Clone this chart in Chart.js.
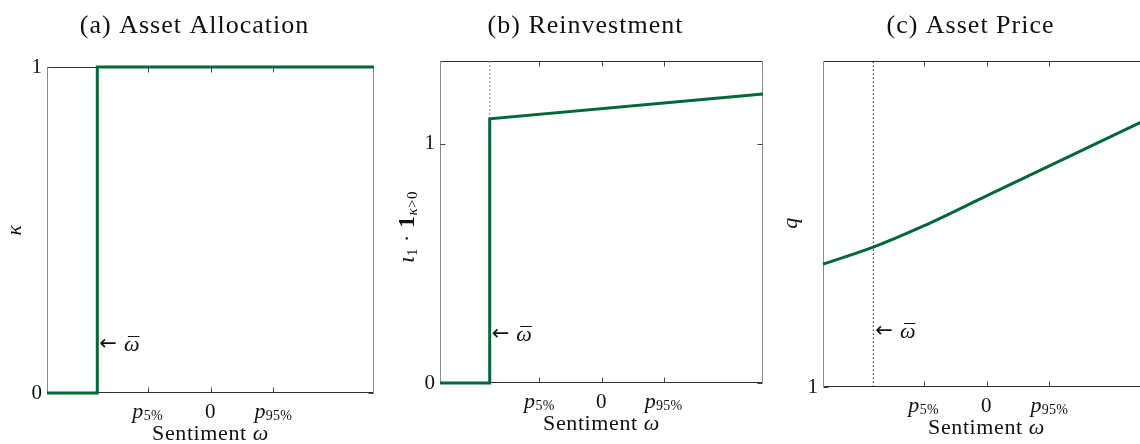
<!DOCTYPE html>
<html>
<head>
<meta charset="utf-8">
<script src="https://cdn.jsdelivr.net/npm/chart.js@4.4.1/dist/chart.umd.min.js"></script>
<style>
  html, body { margin:0; padding:0; background:#fff; }
  #wrap { position:relative; width:1140px; height:444px; overflow:hidden; }
  #wrap canvas { position:absolute; top:0; }
</style>
</head>
<body>
<div id="wrap">
  <canvas id="chartA" width="390" height="444" style="left:0px"></canvas>
  <canvas id="chartB" width="390" height="444" style="left:390px"></canvas>
  <canvas id="chartC" width="380" height="444" style="left:780px"></canvas>
</div>
<script>
// ---- data ----
const OMEGA_MIN = -2.6, OMEGA_MAX = 2.6;      // sentiment axis range
const OMEGA_BAR = -1.8;                       // threshold ω̄
const X_TICKS   = [-1, 0, 1];                 // p5%, 0, p95%
const X_TICK_LABELS = [["p", "5%"], ["0", ""], ["p", "95%"]];

// (a) asset allocation
const omegaA = [-2.6, -1.8, -1.8, 2.6];
const kappa  = [0, 0, 1, 1];
const yTicksA = [0, 1];

// (b) reinvestment
const omegaB   = [-2.6, -1.8, -1.8, 2.6];
const reinvest = [0, 0, 1.105, 1.209];
const yTicksB  = [0, 1];

// (c) asset price
const omegaC = [-2.6, -1.8, -1, 0, 1, 1.8, 2.6];
const price  = [1.377, 1.429, 1.494, 1.586, 1.678, 1.752, 1.825];
const yTicksC = [1];

// ---- styles ----
const GREEN = "#006837";
const SERIF = "'Liberation Serif', 'DejaVu Serif', serif";

const pts = (xs, ys) => xs.map((x, i) => ({ x, y: ys[i] }));

// draw a list of text pieces in a row, centred on (x,y)
function drawPieces(ctx, pieces, x, y, spacing){
  ctx.letterSpacing = spacing || "0px";
  let w = 0;
  pieces.forEach(p => { ctx.font = p.f; p.w = ctx.measureText(p.t).width; w += p.w; });
  let cx = x - w / 2;
  ctx.textAlign = "left";
  ctx.textBaseline = "middle";
  pieces.forEach(p => { ctx.font = p.f; ctx.fillText(p.t, cx, y + (p.dy || 0)); cx += p.w; });
  ctx.letterSpacing = "0px";
}

// frame, inward ticks, labels and annotation
const decor = {
  id: "decor",
  beforeDatasetsDraw(chart, args, o){
    const { ctx, chartArea: a, scales } = chart;
    const L = Math.round(a.left) + 0.5, R = Math.round(a.right) - 0.5;
    const T = Math.round(a.top) + 0.5,  B = Math.round(a.bottom) - 0.5;
    ctx.save();
    ctx.lineWidth = 1;
    ctx.strokeStyle = "#2e2e2e";
    ctx.beginPath(); ctx.moveTo(L, T); ctx.lineTo(R, T); ctx.moveTo(L, B); ctx.lineTo(R, B); ctx.stroke();
    ctx.strokeStyle = "#8a8a8a";
    ctx.beginPath(); ctx.moveTo(L, T); ctx.lineTo(L, B); ctx.moveTo(R, T); ctx.lineTo(R, B); ctx.stroke();
    // ticks pointing inward
    ctx.strokeStyle = "#444";
    X_TICKS.forEach(v => {
      const px = Math.round(scales.x.getPixelForValue(v)) + 0.5;
      ctx.beginPath(); ctx.moveTo(px, B); ctx.lineTo(px, B - 5); ctx.moveTo(px, T); ctx.lineTo(px, T + 5); ctx.stroke();
    });
    o.yTicks.forEach(v => {
      const py = Math.round(scales.y.getPixelForValue(v)) + 0.5;
      ctx.beginPath(); ctx.moveTo(L, py); ctx.lineTo(L + 5, py); ctx.moveTo(R, py); ctx.lineTo(R - 5, py); ctx.stroke();
    });
    ctx.restore();
  },
  afterDraw(chart, args, o){
    const { ctx, chartArea: a, scales } = chart;
    ctx.save();
    ctx.fillStyle = "#111";
    ctx.strokeStyle = "#111";

    // title
    drawPieces(ctx, [{ t: o.title, f: `26px ${SERIF}` }], (a.left + a.right) / 2 - 16, 26, "1px");

    // y tick labels
    ctx.font = `21px ${SERIF}`;
    ctx.textAlign = "right"; ctx.textBaseline = "middle";
    o.yTicks.forEach(v => ctx.fillText(String(v), a.left - 5, scales.y.getPixelForValue(v)));

    // x tick labels
    X_TICKS.forEach((v, i) => {
      const [m, s] = X_TICK_LABELS[i];
      const px = scales.x.getPixelForValue(v);
      const pieces = s
        ? [{ t: m, f: `italic 22px ${SERIF}` }, { t: s, f: `14px ${SERIF}`, dy: 4 }]
        : [{ t: m, f: `21px ${SERIF}` }];
      drawPieces(ctx, pieces, px, a.bottom + 19, "0.3px");
    });

    // x axis title
    drawPieces(ctx, [{ t: "Sentiment ", f: `22px ${SERIF}` }, { t: "ω", f: `italic 22px ${SERIF}` }],
               (a.left + a.right) / 2, a.bottom + 41, "0.6px");

    // y axis title (rotated)
    ctx.save();
    ctx.translate(a.left - 32, o.yLabelY);
    ctx.rotate(-Math.PI / 2);
    drawPieces(ctx, o.yLabel, 0, 0, "0.5px");
    ctx.restore();

    // ← ω̄ annotation
    const ax = scales.x.getPixelForValue(OMEGA_BAR) + 2;
    ctx.font = `21px 'DejaVu Sans', sans-serif`;
    ctx.textAlign = "left"; ctx.textBaseline = "middle";
    ctx.fillText("←", ax, o.arrowY);
    const aw = ctx.measureText("←").width + 7;
    ctx.font = `italic 22px ${SERIF}`;
    ctx.fillText("ω", ax + aw, o.arrowY);
    const ow = ctx.measureText("ω").width;
    ctx.lineWidth = 1;
    ctx.beginPath();
    ctx.moveTo(ax + aw + 4, Math.round(o.arrowY - 9) + 0.5);
    ctx.lineTo(ax + aw + ow, Math.round(o.arrowY - 9) + 0.5);
    ctx.stroke();
    ctx.restore();
  }
};

function makeChart(id, datasets, yMin, yMax, pad, decorOpts){
  return new Chart(document.getElementById(id), {
    type: "scatter",
    data: { datasets },
    options: {
      responsive: false,
      animation: false,
      layout: { padding: pad },
      plugins: { legend: { display: false }, tooltip: { enabled: false }, decor: decorOpts },
      scales: {
        x: { type: "linear", min: OMEGA_MIN, max: OMEGA_MAX, display: false },
        y: { type: "linear", min: yMin, max: yMax, display: false }
      }
    },
    plugins: [decor]
  });
}

const lineStyle = { showLine: true, borderColor: GREEN, borderWidth: 3, pointRadius: 0, clip: 4, borderJoinStyle: "miter" };

// (a)
makeChart("chartA",
  [{ ...lineStyle, data: pts(omegaA, kappa) }],
  0, 1, { left: 47, right: 16, top: 67, bottom: 51 },
  { title: "(a) Asset Allocation", yTicks: yTicksA, arrowY: 345, yLabelY: 230,
    yLabel: [{ t: "κ", f: `italic 22px ${SERIF}` }] });

// (b)
makeChart("chartB",
  [{ ...lineStyle, data: pts(omegaB, reinvest) },
   { showLine: true, borderColor: "#8c8c8c", borderWidth: 1, borderDash: [2, 2], pointRadius: 0,
     data: pts([OMEGA_BAR, OMEGA_BAR], [1.347, reinvest[2]]) }],
  0, 1.347, { left: 50, right: 17, top: 61, bottom: 61 },
  { title: "(b) Reinvestment", yTicks: yTicksB, arrowY: 335, yLabelY: 227,
    yLabel: [{ t: "ι", f: `italic 24px ${SERIF}` }, { t: "1", f: `15px ${SERIF}`, dy: 5 },
             { t: " · ", f: `22px ${SERIF}` }, { t: "1", f: `bold 24px ${SERIF}` },
             { t: "κ", f: `italic 15px ${SERIF}`, dy: 5 }, { t: ">0", f: `15px ${SERIF}`, dy: 5 }] });

// (c)
makeChart("chartC",
  [{ showLine: true, borderColor: "#111", borderWidth: 1, borderDash: [1.5, 2.5], pointRadius: 0,
     data: pts([OMEGA_BAR, OMEGA_BAR], [1, 2]) },
   { ...lineStyle, cubicInterpolationMode: "monotone", data: pts(omegaC, price) }],
  1, 2, { left: 43, right: 10, top: 61, bottom: 57 },
  { title: "(c) Asset Price", yTicks: yTicksC, arrowY: 332, yLabelY: 223,
    yLabel: [{ t: "q", f: `italic 22px ${SERIF}` }] });
</script>
</body>
</html>
